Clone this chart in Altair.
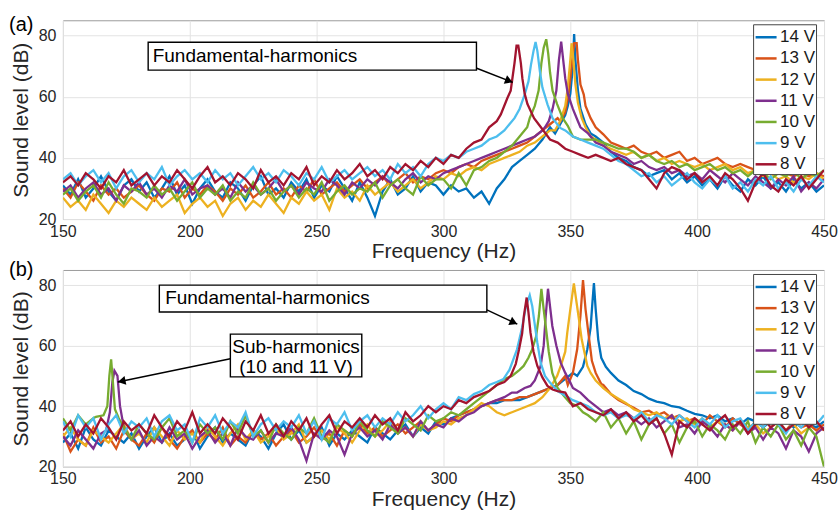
import math
import altair as alt
import pandas as pd

FONT = "Liberation Sans"
LABELS = ["14 V", "13 V", "12 V", "11 V", "10 V", "9 V", "8 V"]
COLORS = ["#0072BD", "#D95319", "#EDB120", "#7E2F8E", "#77AC30", "#4DBEEE", "#A2142F"]

# sampling grid of the read-off values (Hz)
FREQ = list(range(150, 451, 3))
X_TICKS = [150, 200, 250, 300, 350, 400, 450]
Y_TICKS = [20, 40, 60, 80]

# ---------------- panel (a): base readings on FREQ grid (dB) ----------------
A14 = [31, 28, 33, 27, 30, 34, 29, 26, 31, 33,
       29, 32, 27, 30, 34, 28, 31, 25, 30, 33,
       29, 27, 32, 30, 26, 31, 34, 28, 30, 27,
       32, 29, 33, 27, 31, 29, 34, 30, 26, 32,
       27, 21, 29, 33, 28, 30, 34, 29, 32, 31,
       28, 31, 29, 30, 27, 29, 25, 30, 33, 37,
       39, 41, 43, 46, 50, 53, 55, 60, 56, 51,
       47, 45, 42, 40, 39, 37, 36, 34, 35, 36,
       33, 35, 32, 34, 31, 33, 30, 34, 31, 29,
       33, 31, 34, 30, 32, 29, 33, 30, 32, 29,
       31]
A13 = [30, 27, 32, 29, 26, 31, 28, 30, 27, 29,
       31, 28, 26, 30, 29, 32, 27, 30, 28, 31,
       29, 26, 30, 28, 31, 27, 29, 32, 28, 30,
       27, 31, 29, 33, 28, 30, 32, 29, 31, 33,
       30, 32, 34, 31, 33, 35, 32, 34, 33, 35,
       36, 35, 37, 38, 37, 39, 40, 41, 42, 43,
       44, 45, 47, 49, 51, 53, 56, 62, 64, 57,
       51, 47, 45, 44, 43, 44, 42, 41, 42, 40,
       41, 42, 39, 40, 38, 39, 40, 38, 37, 38,
       37, 36, 37, 35, 36, 35, 34, 35, 34, 35,
       34]
A12 = [27, 24, 26, 23, 28, 25, 22, 26, 24, 27,
       25, 23, 27, 24, 26, 28, 22, 25, 27, 24,
       26, 21, 25, 27, 23, 26, 24, 28, 25, 22,
       27, 25, 29, 26, 28, 23, 30, 27, 29, 26,
       31, 28, 30, 32, 29, 31, 33, 30, 32, 34,
       33, 35, 34, 36, 37, 36, 38, 39, 40, 41,
       42, 44, 45, 47, 49, 52, 56, 66, 56, 50,
       46, 44, 43, 42, 41, 42, 40, 41, 39, 40,
       38, 39, 38, 37, 38, 36, 37, 38, 36, 37,
       35, 36, 34, 35, 33, 34, 32, 34, 33, 35,
       33]
A11 = [29, 31, 27, 30, 32, 28, 30, 26, 31, 29,
       32, 28, 30, 27, 31, 29, 33, 28, 30, 31,
       28, 30, 27, 32, 29, 31, 28, 30, 33, 29,
       31, 28, 32, 30, 29, 33, 31, 28, 32, 30,
       33, 31, 34, 32, 30, 33, 35, 32, 34, 33,
       35, 36, 37, 38, 39, 40, 41, 42, 43, 44,
       45, 46, 47, 49, 51, 58, 66, 56, 50, 48,
       45, 44, 42, 41, 40, 38, 39, 37, 36, 37,
       35, 36, 34, 35, 33, 36, 34, 32, 35, 33,
       31, 34, 32, 30, 33, 31, 34, 29, 32, 30,
       33]
A10 = [28, 30, 26, 29, 31, 27, 32, 28, 25, 30,
       29, 27, 31, 28, 30, 26, 29, 32, 27, 30,
       28, 31, 26, 29, 27, 32, 28, 30, 26, 29,
       31, 27, 30, 28, 32, 26, 29, 31, 28, 30,
       29, 32, 27, 31, 33, 30, 28, 34, 31, 33,
       33, 30, 35, 31, 36, 37, 39, 40, 42, 44,
       47, 50, 56, 66, 60, 52, 49, 47, 46, 46,
       46, 45, 44, 43, 43, 42, 40, 41, 39, 38,
       39, 37, 38, 36, 37, 38, 36, 37, 35, 36,
       34, 36, 35, 33, 35, 34, 36, 33, 35, 34,
       36]
A9 = [33, 35, 31, 34, 36, 32, 35, 30, 34, 36,
      32, 35, 33, 37, 31, 34, 36, 33, 35, 32,
      36, 33, 35, 31, 34, 37, 33, 35, 32, 36,
      34, 31, 35, 33, 37, 32, 34, 36, 33, 35,
      37, 34, 36, 33, 38, 35, 37, 34, 38, 40,
      39, 41, 40, 42, 43, 44, 46, 47, 49, 52,
      56, 61, 70, 65, 58, 52, 49, 47, 46, 45,
      44, 43, 41, 39, 38, 36, 34, 35, 32, 34,
      31, 33, 35, 32, 30, 33, 31, 34, 30, 32,
      29, 33, 31, 34, 30, 32, 29, 33, 31, 34,
      32]
A8 = [32, 34, 31, 35, 33, 30, 34, 32, 36, 31,
      33, 35, 31, 34, 32, 36, 33, 30, 34, 37,
      32, 34, 31, 35, 33, 30, 36, 32, 34, 31,
      35, 33, 37, 31, 34, 32, 36, 33, 35, 38,
      34, 36, 33, 37, 35, 38, 36, 39, 37, 40,
      38, 41, 40, 43, 45, 46, 50, 52, 55, 58,
      70, 58, 52, 48, 46, 45, 43, 42, 41, 40,
      41, 40, 39, 40, 38, 37, 36, 33, 30, 35,
      37, 36, 33, 35, 32, 34, 31, 35, 33, 30,
      26, 32, 35, 31, 29, 33, 31, 34, 30, 33,
      36]

# panel (a): finer readings around the resonance peaks (Hz, dB)
A14_PF = [344, 346, 348, 349, 350, 351, 351.5, 352, 353, 354, 356, 358]
A14_PDB = [48, 51, 54, 57, 61, 70, 80.5, 72, 62, 56, 51, 48]
A13_PF = [346, 348, 349.5, 350.5, 351.5, 352.5, 353, 354, 355.3, 356, 358, 360, 363]
A13_PDB = [52, 55, 62, 70, 77.5, 77.5, 72, 64, 60.7, 57, 53, 50, 47.7]
A12_PF = [344, 346, 348, 349, 350, 350.5, 351, 352, 353, 354.5, 356, 358]
A12_PDB = [49, 52, 57, 63, 72, 77.5, 74, 64, 58, 53, 50, 47]
A11_PF = [340, 341.5, 343, 344.5, 345.5, 346.4, 347.2, 348, 349, 351, 353]
A11_PDB = [50, 52, 56, 62, 72, 78, 72, 66, 61, 56, 52]
A10_PF = [334, 336, 337.5, 338.6, 339.5, 340.5, 341.3, 342, 343, 344.8, 347, 349]
A10_PDB = [53, 57, 62, 71, 76, 78.8, 74, 68, 62, 57.6, 53, 50.5]
A9_PF = [326, 328, 330, 332, 333.5, 334.5, 335.5, 336.3, 337, 338, 339, 341, 343, 346]
A9_PDB = [51, 53, 56, 60.7, 65, 70.5, 75, 77.9, 75, 68.3, 63, 57.5, 53, 49.8]
A8_PF = [322.6, 325.2, 326.5, 327.2, 328, 328.8, 329.5, 330.5, 331.1, 332, 333.1, 335.7, 339.6]
A8_PDB = [54.2, 59.6, 62, 66.2, 71, 76.7, 76.7, 71, 66, 61, 57.6, 53, 48.7]

# ---------------- panel (b) ----------------
B14 = [28, 31, 26, 33, 29, 27, 32, 30, 28, 31,
       26, 30, 33, 28, 31, 27, 29, 32, 26, 30,
       33, 28, 31, 29, 27, 32, 30, 26, 31, 34,
       29, 32, 28, 30, 33, 27, 31, 29, 32, 30,
       28, 33, 31, 29, 32, 34, 30, 33, 31, 35,
       34, 36, 37, 38, 39, 40, 41, 41, 42, 42,
       42, 43, 44, 45, 46, 47, 49, 51, 55, 70,
       62, 55, 51, 48.5, 47, 45, 44, 42.5, 41.5, 41,
       40, 39.6, 38.5, 37.5, 37, 36, 37, 35, 36, 34,
       36, 35, 33, 35, 34, 36, 33, 35, 34, 33,
       35]
B13 = [31, 25, 29, 27, 33, 28, 30, 26, 32, 29,
       27, 31, 28, 33, 29, 26, 30, 32, 28, 31,
       29, 33, 27, 30, 28, 32, 29, 31, 27, 30,
       32, 28, 30, 33, 29, 31, 27, 32, 30, 34,
       31, 33, 30, 32, 34, 31, 33, 35, 32, 34,
       36, 35, 37, 38, 39, 40, 41, 42, 42, 42,
       43, 43, 44, 45, 46, 47, 50, 56, 70, 62,
       54, 47, 44, 42, 40.7, 39.5, 38, 38.5, 37, 38,
       36, 37, 35, 36, 34, 37, 35, 33, 36, 34,
       32, 35, 33, 36, 34, 32, 35, 33, 34, 32,
       34]
B12 = [30, 33, 29, 27, 32, 30, 28, 31, 34, 29,
       31, 28, 33, 30, 27, 32, 29, 31, 28, 33,
       30, 27, 31, 34, 29, 32, 28, 30, 33, 29,
       31, 34, 28, 30, 32, 29, 33, 31, 28, 32,
       34, 30, 32, 35, 31, 33, 30, 34, 32, 33,
       35, 34, 36, 37, 39, 41, 40, 38, 37, 38,
       39, 40, 41, 43, 46, 47, 52, 75, 60, 52,
       48, 46, 44, 42.5, 41, 39, 38, 37, 38, 36,
       37, 35, 36, 34, 36, 33, 35, 34, 32, 35,
       33, 34, 31, 33, 35, 32, 34, 31, 33, 35,
       32]
B11 = [30, 27, 32, 29, 26, 31, 38, 50, 33, 29,
       32, 27, 30, 28, 33, 29, 31, 26, 30, 32,
       28, 31, 27, 33, 30, 29, 32, 28, 31, 30,
       33, 29, 22, 31, 29, 32, 30, 24, 31, 33,
       30, 32, 29, 34, 31, 33, 30, 35, 32, 34,
       33, 36, 35, 37, 38, 40, 41, 42, 43, 44.5,
       46, 48, 53, 78, 60, 52, 48, 46, 44.5, 42,
       40, 38, 39, 37, 38, 36, 34, 36, 33, 35,
       37, 33, 34, 31, 35, 33, 30, 34, 32, 35,
       31, 33, 29, 33, 31, 26, 32, 30, 25, 31,
       33]
B10 = [36, 32, 37, 34, 36, 37, 50, 39, 33, 29,
       34, 31, 29, 33, 36, 30, 32, 28, 34, 31,
       33, 29, 35, 31, 37, 30, 32, 28, 34, 31,
       29, 33, 31, 36, 30, 28, 34, 32, 30, 35,
       32, 30, 35, 33, 31, 36, 34, 32, 37, 35,
       36, 38, 37, 39, 41, 43, 45, 47, 49, 50,
       52, 56, 60, 72, 60, 46, 43, 40, 38, 37,
       35, 38, 33, 36, 31, 35, 29, 34, 36, 31,
       34, 28, 33, 35, 30, 34, 32, 29, 34, 31,
       35, 28, 33, 30, 34, 29, 32, 27, 33, 30,
       20]
B9 = [35, 30, 37, 33, 36, 29, 34, 37, 31, 35,
      33, 36, 30, 35, 37, 32, 34, 28, 36, 33,
      37, 31, 35, 33, 38, 30, 34, 36, 32, 35,
      33, 37, 31, 35, 29, 36, 34, 38, 32, 35,
      37, 33, 36, 34, 38, 35, 37, 40, 36, 39,
      41, 39, 43, 42, 44, 45, 47, 48, 49, 52,
      58, 74, 68, 54, 47.8, 45, 43.5, 42, 41, 40,
      38, 37, 38, 36, 37, 36, 38, 35, 37, 36,
      34, 37, 35, 33, 36, 34, 37, 33, 35, 36,
      32, 35, 33, 36, 34, 31, 35, 33, 36, 34,
      37]
B8 = [32, 35, 30, 34, 31, 36, 33, 29, 35, 32,
      34, 31, 37, 33, 30, 35, 32, 38, 31, 34,
      31, 36, 33, 29, 35, 32, 37, 31, 34, 30,
      35, 32, 36, 30, 34, 37, 31, 35, 33, 36,
      33, 37, 34, 36, 32, 38, 35, 37, 40, 38,
      40, 39, 42, 41, 43, 44, 45, 47, 48, 50,
      60, 70, 55, 50, 46, 45, 44.5, 40, 41, 39,
      38, 37, 39, 36, 38, 35, 37, 34, 36, 31,
      24, 35, 33, 36, 34, 32, 35, 37, 33, 35,
      31, 34, 36, 33, 35, 32, 34, 36, 33, 35,
      32]

B14_PF = [352.7, 355, 356.7, 358, 358.6, 359.3, 360, 361, 362.2, 364]
B14_PDB = [50, 53, 58.8, 66, 73, 80.7, 72, 62, 56, 53]
B13_PF = [349, 351, 352.7, 354, 355, 356, 357.3, 358.5, 360, 362.2]
B13_PDB = [47, 51, 58.8, 70, 81.7, 72, 63, 55, 51, 47.3]
B12_PF = [344.8, 346.5, 348, 348.8, 350, 351.4, 352.5, 353.4, 354.5, 356.7, 358, 360]
B12_PDB = [50, 54, 58, 64.3, 72, 80.6, 74, 68.7, 62, 53.3, 51, 48.5]
B11_SF = [167, 168.5, 169.5, 170.3, 171.5, 172.5, 174]
B11_SDB = [32, 38, 48, 51.7, 50, 40, 33]
B11_PF = [329, 332, 334.3, 336, 338.3, 339.5, 340.3, 341.2, 342, 342.9, 344.5, 346.2, 348, 350]
B11_PDB = [44.5, 46, 46.7, 48.5, 53.3, 60, 69.8, 78.8, 73, 66.5, 60, 54.4, 51, 47.8]
B10_SF = [163, 166, 167.5, 168.3, 169, 169.7, 170.5, 172]
B10_SDB = [36.5, 37, 40, 50, 55.5, 48, 39, 36]
B10_PF = [330, 331.6, 333.5, 335, 336.5, 337.6, 338.6, 339.5, 340.3, 341.5, 342.9, 345, 347.5, 350, 352.7, 355]
B10_PDB = [52, 53.3, 56, 58.8, 63, 69.8, 78.8, 72, 66.5, 58, 51, 46, 43.4, 41, 40.1, 38]
B9_PF = [323.7, 326, 329, 331, 332.5, 334, 335, 335.7, 337, 338.3, 340, 342, 344]
B9_PDB = [49, 52, 58.8, 66, 73, 76.7, 73, 68.7, 61, 54.4, 50, 47.8, 46]
B8_PF = [326.5, 328.5, 329.8, 331, 331.7, 332.8, 333.5, 334.3, 335.5, 337, 339, 341, 343]
B8_PDB = [50, 54, 58.8, 64, 69.8, 75.9, 71, 64.3, 58, 53.3, 49.5, 46.7, 45.5]

# annotations (data units): box [f1, f2, db1, db2], text anchor, arrow start -> tip
A_BOX = [183.6, 313.0, 68.7, 77.8]
A_TEXT = [(185.4, 73.3, "Fundamental-harmonics", "left")]
A_ARROWS = [(313.1, 69.3, 327.3, 64.7)]
B_BOXES = [[188.0, 317.1, 71.1, 80.0], [216.0, 267.8, 49.7, 63.8]]
B_TEXTS = [(190.3, 75.6, "Fundamental-harmonics", "left"),
           (241.9, 59.4, "Sub-harmonics", "center"),
           (241.9, 53.0, "(10 and 11 V)", "center")]
B_ARROWS = [(317.1, 71.8, 329.1, 67.1), (216.0, 55.7, 171.6, 48.0)]


def build(bases, windows):
    rows = []
    for lab in LABELS:
        base = bases[lab]
        assert len(base) == len(FREQ), lab
        wins = windows[lab]
        pts = []
        for f, v in zip(FREQ, base):
            if any(min(pf) <= f <= max(pf) for pf, _ in wins):
                continue
            pts.append((f, v))
        for pf, pdb in wins:
            pts.extend(zip(pf, pdb))
        pts.sort()
        rows += [{"f": f, "db": v, "series": lab} for f, v in pts]
    return pd.DataFrame(rows)


df_a = build(
    dict(zip(LABELS, [A14, A13, A12, A11, A10, A9, A8])),
    {"14 V": [(A14_PF, A14_PDB)], "13 V": [(A13_PF, A13_PDB)], "12 V": [(A12_PF, A12_PDB)],
     "11 V": [(A11_PF, A11_PDB)], "10 V": [(A10_PF, A10_PDB)], "9 V": [(A9_PF, A9_PDB)],
     "8 V": [(A8_PF, A8_PDB)]})
df_b = build(
    dict(zip(LABELS, [B14, B13, B12, B11, B10, B9, B8])),
    {"14 V": [(B14_PF, B14_PDB)], "13 V": [(B13_PF, B13_PDB)], "12 V": [(B12_PF, B12_PDB)],
     "11 V": [(B11_SF, B11_SDB), (B11_PF, B11_PDB)],
     "10 V": [(B10_SF, B10_SDB), (B10_PF, B10_PDB)], "9 V": [(B9_PF, B9_PDB)],
     "8 V": [(B8_PF, B8_PDB)]})

W = 762
PX_PER_HZ = W / 300.0


def panel(df, boxes, texts, arrows, label, label_y, height):
    px_per_db = height / 65.0
    xs = alt.Scale(domain=[150, 450], nice=False, zero=False)
    ys = alt.Scale(domain=[20, 85], nice=False, zero=False)
    lines = alt.Chart(df).mark_line(strokeWidth=2.3, clip=True).encode(
        x=alt.X("f:Q", scale=xs, axis=alt.Axis(values=X_TICKS, title="Frequency (Hz)")),
        y=alt.Y("db:Q", scale=ys, axis=alt.Axis(values=Y_TICKS, title="Sound level (dB)")),
        color=alt.Color("series:N", scale=alt.Scale(domain=LABELS, range=COLORS),
                        legend=alt.Legend(orient="none", legendX=691, legendY=4, title=None,
                                          symbolType="stroke", symbolStrokeWidth=2.5,
                                          symbolSize=441, labelFontSize=17, labelFont=FONT,
                                          labelColor="#1a1a1a", strokeColor="#444",
                                          fillColor="white", padding=1, rowPadding=1.2,
                                          labelOffset=2)),
    )
    box_df = pd.DataFrame([{"f": b[0], "f2": b[1], "db": b[2], "db2": b[3]} for b in boxes])
    rects = alt.Chart(box_df).mark_rect(fill="white", stroke="black", strokeWidth=1.4).encode(
        x=alt.X("f:Q", scale=xs), x2="f2:Q", y=alt.Y("db:Q", scale=ys), y2="db2:Q")
    layers = [lines, rects]
    for (tx, ty, tt, al) in texts:
        tdf = pd.DataFrame([{"f": tx, "db": ty, "t": tt}])
        layers.append(alt.Chart(tdf).mark_text(align=al, baseline="middle", fontSize=19,
                                               font=FONT, color="black").encode(
            x=alt.X("f:Q", scale=xs), y=alt.Y("db:Q", scale=ys), text="t:N"))
    ar_rows, head_rows = [], []
    for (x0, y0, x1, y1) in arrows:
        sdx = (x1 - x0) * PX_PER_HZ
        sdy = -(y1 - y0) * px_per_db
        ang = math.degrees(math.atan2(sdy, sdx)) % 360
        L = math.hypot(sdx, sdy)
        back = 4.0 / L
        ar_rows.append({"f": x0, "db": y0, "f2": x1, "db2": y1})
        head_rows.append({"f": x1 - (x1 - x0) * back, "db": y1 - (y1 - y0) * back, "ang": ang})
    layers.append(alt.Chart(pd.DataFrame(ar_rows)).mark_rule(color="black", strokeWidth=1.5).encode(
        x=alt.X("f:Q", scale=xs), y=alt.Y("db:Q", scale=ys), x2="f2:Q", y2="db2:Q"))
    layers.append(alt.Chart(pd.DataFrame(head_rows)).mark_point(
        shape="triangle-right", filled=True, color="black", opacity=1, size=80).encode(
        x=alt.X("f:Q", scale=xs), y=alt.Y("db:Q", scale=ys), angle=alt.Angle("ang:Q", scale=None)))
    layers.append(alt.Chart(pd.DataFrame([{"t": label}])).mark_text(
        align="left", baseline="middle", fontSize=20, font=FONT, color="black").encode(
        x=alt.value(-54), y=alt.value(label_y), text="t:N"))
    return alt.layer(*layers).properties(width=W, height=height)


pa = panel(df_a, [A_BOX], A_TEXT, A_ARROWS, "(a)", 5, 199)
pb = panel(df_b, B_BOXES, B_TEXTS, B_ARROWS, "(b)", 0, 197)

chart = alt.vconcat(pa, pb, spacing=51, bounds="flush").resolve_legend(color="independent").properties(
    padding={"left": 8, "top": 14, "right": 2, "bottom": 2}
).configure(font=FONT).configure_view(stroke="#9c9c9c", strokeWidth=1).configure_axis(
    grid=True, gridColor="#e3e3e3", gridWidth=1, domain=False, ticks=False,
    labelFont=FONT, labelFontSize=16, labelColor="#262626", labelPadding=7,
    titleFont=FONT, titleFontSize=21, titleFontWeight="normal", titleColor="#262626",
).configure_axisX(titlePadding=2, labelPadding=4, labelFlush=False).configure_axisY(titlePadding=7)

chart.save("out.html", embed_options={"renderer": "svg", "actions": False})
